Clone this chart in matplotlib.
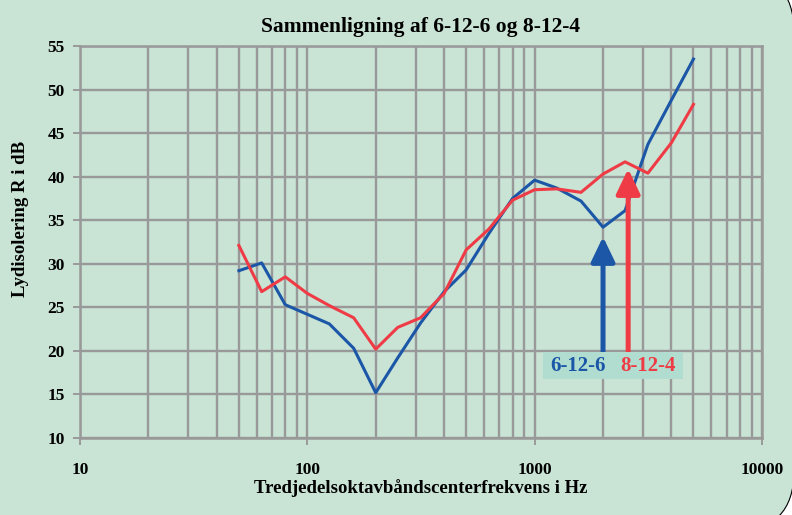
import numpy as np
import matplotlib
matplotlib.use("Agg")
import matplotlib.pyplot as plt
from matplotlib.patches import FancyBboxPatch, Rectangle
from matplotlib.transforms import IdentityTransform

# Tertsbånd (Hz)
freq = [50, 63, 80, 100, 125, 160, 200, 250, 315, 400, 500, 630,
        800, 1000, 1250, 1600, 2000, 2500, 3150, 4000, 5000]

# Lydisolering R (dB)
r_6126 = [29.2, 30.1, 25.3, 24.2, 23.1, 20.3, 15.2, 19.2, 23.2, 26.8, 29.3, 33.5,
          37.5, 39.6, 38.7, 37.2, 34.2, 36.1, 43.7, 48.8, 53.5]
r_8124 = [32.1, 26.8, 28.5, 26.6, 25.2, 23.8, 20.2, 22.7, 23.8, 26.6, 31.6, 34.0,
          37.3, 38.5, 38.6, 38.2, 40.3, 41.7, 40.4, 43.9, 48.3]

labels = ["6-12-6", "8-12-4"]
blue = "#1b56a7"
red = "#ef3b45"
bg = "#c9e3d5"
gridc = "#999999"

plt.rcParams['font.family'] = ['Liberation Serif', 'DejaVu Serif']

fig = plt.figure(figsize=(7.92, 5.15), dpi=100, facecolor="white")

# afrundet baggrundsboks
box = FancyBboxPatch((-100, -16), 894, 559, boxstyle="round,pad=0,rounding_size=60",
                     transform=IdentityTransform(), facecolor=bg, edgecolor="black",
                     linewidth=0.8, zorder=-1)
fig.patches.append(box)

ax = fig.add_axes([0.101, 0.1495, 0.861, 0.7612])
ax.set_zorder(1)
ax.set_facecolor(bg)
ax.set_xscale("log")
ax.set_xlim(10, 10000)
ax.set_ylim(10, 55)
ax.set_yticks(np.arange(10, 56, 5))
ax.set_xticks([10, 100, 1000, 10000])
ax.set_xticklabels(["10", "100", "1000", "10000"])
ax.xaxis.set_minor_formatter(plt.NullFormatter())

ax.grid(True, which="major", color=gridc, linewidth=1.7)
ax.grid(True, which="minor", axis="x", color=gridc, linewidth=1.7)
ax.set_axisbelow(True)
for s in ax.spines.values():
    s.set_color(gridc)
    s.set_linewidth(1.8)
ax.tick_params(which="major", length=5, width=1.4, color=gridc, labelsize=12.5)
ax.tick_params(axis="y", pad=6)
ax.tick_params(axis="x", pad=12)
ax.tick_params(which="minor", length=0)
for t in ax.get_xticklabels() + ax.get_yticklabels():
    t.set_fontweight("bold")

ax.plot(freq, r_6126, color=blue, linewidth=2.2, zorder=3)
ax.plot(freq, r_8124, color=red, linewidth=2.2, zorder=3)

# pile
ax.annotate("", xy=(2000, 33.1), xytext=(2000, 19.8),
            arrowprops=dict(arrowstyle="-|>,head_length=0.75,head_width=0.36",
                            mutation_scale=20, lw=3.6, color=blue,
                            shrinkA=0, shrinkB=0), zorder=4)
ax.annotate("", xy=(2580, 40.9), xytext=(2580, 19.8),
            arrowprops=dict(arrowstyle="-|>,head_length=0.75,head_width=0.36",
                            mutation_scale=20, lw=3.6, color=red,
                            shrinkA=0, shrinkB=0), zorder=4)

ax.add_patch(Rectangle((1090, 16.75), 4500 - 1090, 19.9 - 16.75,
                       facecolor="#b1ddd0", edgecolor="none", zorder=5))
ax.text(1553, 18.3, labels[0], color=blue, fontsize=15, fontweight="bold",
        ha="center", va="center", zorder=6)
ax.text(3155, 18.3, labels[1], color=red, fontsize=15, fontweight="bold",
        ha="center", va="center", zorder=6)

ax.set_title("Sammenligning af 6-12-6 og 8-12-4", fontsize=15.5, fontweight="bold", pad=10)
ax.set_xlabel("Tredjedelsoktavbåndscenterfrekvens i Hz", fontsize=13.5, fontweight="bold", labelpad=1)
ax.set_ylabel("Lydisolering R i dB", fontsize=13.5, fontweight="bold")
ax.yaxis.set_label_coords(-0.075, 0.56)

fig.savefig("out.png", dpi=100, facecolor=fig.get_facecolor())
